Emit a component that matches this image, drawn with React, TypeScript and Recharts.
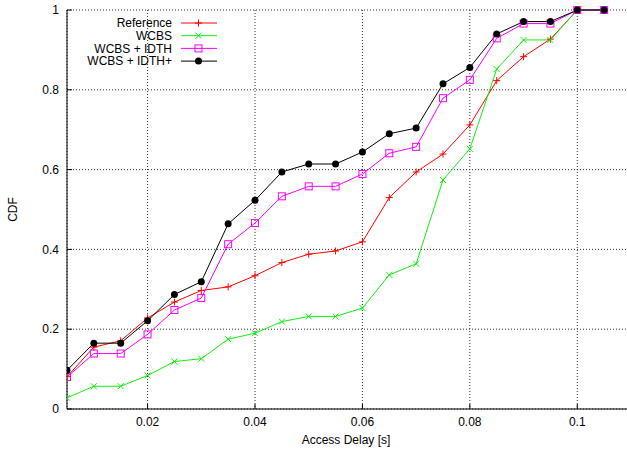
import React from "react";
import { LineChart, Line, XAxis, YAxis, CartesianGrid, Legend } from "recharts";

const delays = [0.005, 0.01, 0.015, 0.02, 0.025, 0.03, 0.035, 0.04, 0.045, 0.05, 0.055, 0.06, 0.065, 0.07, 0.075, 0.08, 0.085, 0.09, 0.095, 0.1, 0.105];
const reference = [0.081, 0.155, 0.171, 0.228, 0.268, 0.297, 0.306, 0.334, 0.367, 0.388, 0.396, 0.419, 0.53, 0.594, 0.639, 0.712, 0.823, 0.883, 0.927, 1, 1];
const wcbs = [0.028, 0.057, 0.057, 0.084, 0.119, 0.126, 0.175, 0.19, 0.219, 0.232, 0.232, 0.253, 0.336, 0.364, 0.574, 0.652, 0.852, 0.925, 0.925, 1, 1];
const wcbsIdth = [0.08, 0.139, 0.139, 0.187, 0.248, 0.278, 0.413, 0.466, 0.533, 0.558, 0.558, 0.589, 0.641, 0.657, 0.779, 0.825, 0.929, 0.966, 0.966, 1, 1];
const wcbsIdthPlus = [0.097, 0.165, 0.165, 0.221, 0.287, 0.319, 0.464, 0.523, 0.594, 0.614, 0.614, 0.644, 0.69, 0.704, 0.815, 0.856, 0.94, 0.971, 0.971, 1, 1];

const xTicks = [0.02, 0.04, 0.06, 0.08, 0.1];
const yTicks = [0, 0.2, 0.4, 0.6, 0.8, 1];

const data = delays.map((x, i) => ({
  x,
  ref: reference[i],
  wcbs: wcbs[i],
  idth: wcbsIdth[i],
  idthPlus: wcbsIdthPlus[i],
}));

const FONT = "'Liberation Sans', Arial, sans-serif";
const GREEN = "#11f011";

// gnuplot-ish point markers
const PlusDot = (p: any) => (
  <path key={p.key} d={`M${p.cx - 3.5},${p.cy}h7M${p.cx},${p.cy - 3.5}v7`} stroke="#ff0000" strokeWidth={1} fill="none" />
);
const CrossDot = (p: any) => (
  <path key={p.key} d={`M${p.cx - 3},${p.cy - 3}l6,6M${p.cx - 3},${p.cy + 3}l6,-6`} stroke={GREEN} strokeWidth={1} fill="none" />
);
const SquareDot = (p: any) => (
  <rect key={p.key} x={p.cx - 3.5} y={p.cy - 3.5} width={7} height={7} stroke="#ff00ff" strokeWidth={1} fill="none" />
);
const CircleDot = (p: any) => <circle key={p.key} cx={p.cx} cy={p.cy} r={3.5} fill="#000" stroke="none" />;

const legendRows = [
  { name: "Reference", color: "#ff0000", Dot: PlusDot },
  { name: "WCBS", color: GREEN, Dot: CrossDot },
  { name: "WCBS + IDTH", color: "#ff00ff", Dot: SquareDot },
  { name: "WCBS + IDTH+", color: "#000", Dot: CircleDot },
];

function GnuLegend() {
  return (
    <svg width={230} height={60}>
      {legendRows.map((r, i) => {
        const y = 6 + i * 12.7;
        return (
          <g key={r.name}>
            <text x={172} y={y + 4.3} textAnchor="end" fontFamily={FONT} fontSize={12} fill="#000">
              {r.name}
            </text>
            <line x1={181} x2={217} y1={y} y2={y} stroke={r.color} strokeWidth={1} />
            <r.Dot cx={198.5} cy={y} />
          </g>
        );
      })}
    </svg>
  );
}

export default function App() {
  return (
    <div style={{ position: "absolute", left: 0, top: 0, width: 627, height: 450, overflow: "hidden", background: "#fff" }}>
      <LineChart width={660} height={450} data={data} margin={{ top: 10, right: 29, left: 0, bottom: 0 }}>
        <CartesianGrid stroke="#333" strokeDasharray="1 2" />
        <XAxis
          dataKey="x"
          type="number"
          domain={[0.005, 0.11]}
          ticks={xTicks}
          allowDataOverflow
          height={41}
          stroke="#000"
          tickSize={-5}
          tickMargin={13}
          tick={{ fill: "#000", fontSize: 12, fontFamily: FONT }}
          label={{ value: "Access Delay [s]", position: "insideBottom", offset: 6, dx: -3, fill: "#000", fontSize: 12, fontFamily: FONT }}
        />
        <XAxis
          xAxisId="top"
          orientation="top"
          type="number"
          domain={[0.005, 0.11]}
          ticks={xTicks}
          allowDataOverflow
          height={0}
          stroke="#000"
          tickSize={-5}
          tickFormatter={() => ""}
        />
        <YAxis
          type="number"
          domain={[0, 1]}
          ticks={yTicks}
          width={67}
          stroke="#000"
          tickSize={-5}
          tickMargin={13}
          tick={{ fill: "#000", fontSize: 12, fontFamily: FONT }}
          label={{ value: "CDF", angle: -90, position: "insideLeft", offset: 13, fill: "#000", fontSize: 12, fontFamily: FONT, style: { textAnchor: "middle" } }}
        />
        <Legend layout="vertical" align="center" verticalAlign="middle" content={<GnuLegend />} wrapperStyle={{ left: 0, top: 17, width: 230, height: 60 }} />
        <Line type="linear" dataKey="ref" stroke="#ff0000" strokeWidth={1} dot={PlusDot} isAnimationActive={false} />
        <Line type="linear" dataKey="wcbs" stroke={GREEN} strokeWidth={1} dot={CrossDot} isAnimationActive={false} />
        <Line type="linear" dataKey="idth" stroke="#ff00ff" strokeWidth={1} dot={SquareDot} isAnimationActive={false} />
        <Line type="linear" dataKey="idthPlus" stroke="#000" strokeWidth={1} dot={CircleDot} isAnimationActive={false} />
      </LineChart>
    </div>
  );
}
